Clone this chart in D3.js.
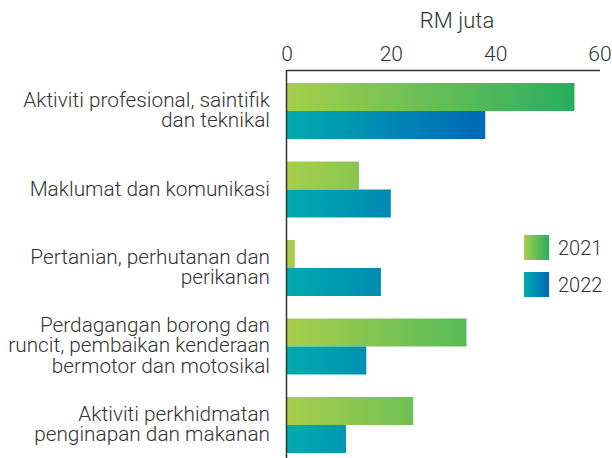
<!DOCTYPE html>
<html>
<head>
    <meta charset=utf-8>
    <title>RM juta</title>
    <style>
        body { margin: 0; background: white; }
        text { font-family: Roboto, 'Noto Sans', sans-serif; font-weight: 300; fill: #333; }
    </style>
</head>
<body>
<svg id=chart width=612 height=458></svg>
<script src='https://cdn.jsdelivr.net/npm/d3@7/dist/d3.min.js'></script>
<script>
    // data
    var categories = [
        'Aktiviti profesional, saintifik|dan teknikal',
        'Maklumat dan komunikasi',
        'Pertanian, perhutanan dan|perikanan',
        'Perdagangan borong dan|runcit, pembaikan kenderaan|bermotor dan motosikal',
        'Aktiviti perkhidmatan|penginapan dan makanan'
    ];
    var seriesNames = ['2021', '2022'];
    var values2021 = [55.2, 13.9, 1.6, 34.5, 24.3];
    var values2022 = [38.1, 20.0, 18.1, 15.3, 11.4];
    var xTicks = [0, 20, 40, 60];

    var colours = {
        '2021': ['#a8ce4b', '#27ae60'],
        '2022': ['#00abae', '#0068b8']
    };

    var svg = d3.select('#chart');
    var W = +svg.attr('width'), H = +svg.attr('height');

    var x = d3.scaleLinear().domain([0, 60]).range([286.5, 599.5]);
    var y = d3.scaleBand().domain(categories).range([70, 466])
        .paddingInner(0.287).paddingOuter(0.166);
    var ySub = d3.scaleBand().domain(seriesNames).range([0, y.bandwidth()]);

    var rows = categories.map((c, i) => ({cat: c, '2021': values2021[i], '2022': values2022[i]}));

    //gradients - one spanning each series in user space, one for legend swatches
    var defs = svg.append('defs');
    seriesNames.forEach(function (s) {
        var vals = s === '2021' ? values2021 : values2022;
        var g = defs.append('linearGradient')
            .attr('id', 'grad' + s)
            .attr('gradientUnits', 'userSpaceOnUse')
            .attr('x1', x(0)).attr('x2', x(d3.max(vals)))
            .attr('y1', 0).attr('y2', 0);
        g.append('stop').attr('offset', 0).attr('stop-color', colours[s][0]);
        g.append('stop').attr('offset', 1).attr('stop-color', colours[s][1]);
        var gl = defs.append('linearGradient').attr('id', 'leg' + s);
        gl.append('stop').attr('offset', 0).attr('stop-color', colours[s][0]);
        gl.append('stop').attr('offset', 1).attr('stop-color', colours[s][1]);
    });

    //bars
    var groups = svg.append('g').selectAll('g')
        .data(rows)
        .enter().append('g')
        .attr('transform', d => 'translate(0,' + y(d.cat) + ')');
    groups.selectAll('rect')
        .data(d => seriesNames.map(s => ({s: s, v: d[s]})))
        .enter().append('rect')
        .attr('x', x(0))
        .attr('y', d => ySub(d.s))
        .attr('width', d => x(d.v) - x(0))
        .attr('height', ySub.bandwidth())
        .attr('fill', d => 'url(#grad' + d.s + ')');

    //top axis
    var xAxis = svg.append('g')
        .attr('transform', 'translate(0,70)')
        .call(d3.axisTop(x).tickValues(xTicks).tickSize(0).tickPadding(9));
    xAxis.select('.domain').attr('stroke', '#333').attr('stroke-width', 1.5);
    xAxis.selectAll('text')
        .style('font-family', 'Roboto, sans-serif').style('font-weight', 300)
        .attr('font-size', 21).attr('fill', '#333');

    //left axis line
    svg.append('line')
        .attr('x1', x(0)).attr('x2', x(0))
        .attr('y1', 70).attr('y2', H)
        .attr('stroke', '#333').attr('stroke-width', 1.5);

    //category labels
    svg.append('g').selectAll('text')
        .data(categories)
        .enter().append('text')
        .attr('text-anchor', 'end')
        .attr('font-size', 20.8)
        .each(function (c) {
            var lines = c.split('|');
            var cy = y(c) + y.bandwidth() / 2;
            var t = d3.select(this);
            lines.forEach(function (l, i) {
                t.append('tspan')
                    .attr('x', 270)
                    .attr('y', cy + (i - (lines.length - 1) / 2) * 20.5 + 6)
                    .text(l);
            });
        });

    //axis title
    svg.append('text')
        .attr('x', 457).attr('y', 28)
        .attr('text-anchor', 'middle')
        .attr('font-size', 22)
        .text('RM juta');

    //legend
    var legend = svg.append('g').selectAll('g')
        .data(seriesNames)
        .enter().append('g')
        .attr('transform', (d, i) => 'translate(524,' + (235 + i * 37) + ')');
    legend.append('rect')
        .attr('width', 25).attr('height', 25)
        .attr('fill', d => 'url(#leg' + d + ')');
    legend.append('text')
        .attr('x', 34).attr('y', 19.5)
        .attr('font-size', 20)
        .text(d => d);
</script>
</body>
</html>
